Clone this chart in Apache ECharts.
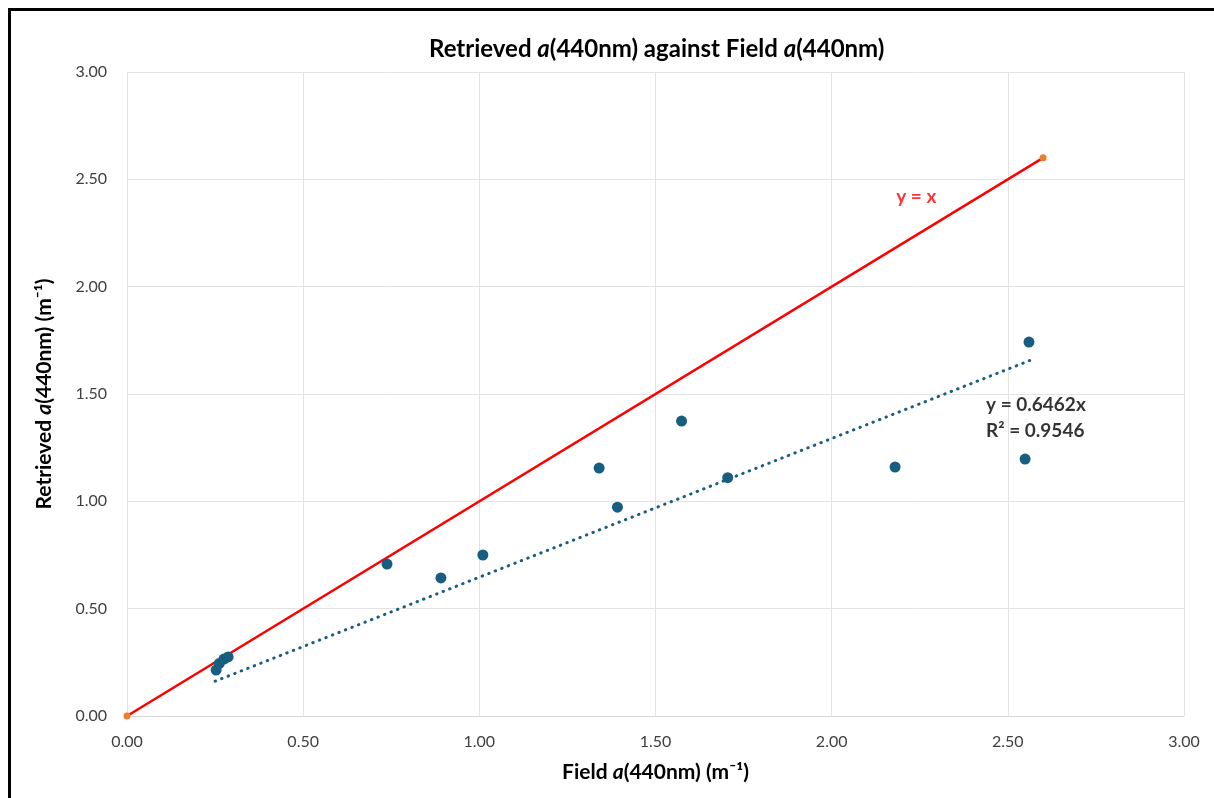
<!DOCTYPE html>
<html>
<head>
<meta charset="utf-8">
<script src="https://cdn.jsdelivr.net/npm/echarts@6/dist/echarts.min.js"></script>
<style>
html,body{margin:0;padding:0;background:#fff;}
#chart{width:1214px;height:798px;}
</style>
</head>
<body>
<div id="chart"></div>
<script>
// Field a(440nm) vs Retrieved a(440nm)
const fieldA = [0.253, 0.262, 0.275, 0.287, 0.738, 0.891, 1.010, 1.340, 1.392, 1.574, 1.705, 2.180, 2.549, 2.560];
const retrievedA = [0.214, 0.245, 0.265, 0.275, 0.708, 0.643, 0.750, 1.155, 0.973, 1.374, 1.110, 1.160, 1.197, 1.742];
// 1:1 reference line endpoints
const oneToOneX = [0, 2.6];
const oneToOneY = [0, 2.6];
// Linear trend line endpoints (y = 0.6462x)
const trendX = [0.25, 2.57];
const trendY = [0.162, 1.661];
const axisTicks = ['0.00','0.50','1.00','1.50','2.00','2.50','3.00'];
const eqLines = ['y = 0.6462x', 'R² = 0.9546'];
const refLabel = 'y = x';

const font = 'Lato, "Open Sans", "Noto Sans", sans-serif';
const pts = fieldA.map((x, i) => [x, retrievedA[i]]);
const oneToOne = oneToOneX.map((x, i) => [x, oneToOneY[i]]);
const trend = trendX.map((x, i) => [x, trendY[i]]);

function richBI(size) {
  return {
    b: {fontFamily: font, fontWeight: 'bold', fontSize: size, color: '#000'},
    i: {fontFamily: font, fontWeight: 'bold', fontStyle: 'italic', fontSize: size, color: '#000'}
  };
}

const chart = echarts.init(document.getElementById('chart'), null, {renderer: 'canvas'});
chart.setOption({
  animation: false,
  backgroundColor: '#fff',
  title: {
    text: '{b|Retrieved }{i|a}{b|(440nm) against Field }{i|a}{b|(440nm)}',
    left: 424,
    top: 32,
    textStyle: {rich: richBI(24)}
  },
  graphic: [{
    type: 'rect',
    shape: {x: 9.5, y: 9.5, width: 1400, height: 1000},
    style: {fill: 'none', stroke: '#000', lineWidth: 3},
    silent: true, z: 100
  }],
  grid: {left: 127, right: 30, top: 72, bottom: 82, containLabel: false},
  xAxis: {
    type: 'value', min: 0, max: 3, interval: 0.5,
    name: '{b|Field }{i|a}{b|(440nm) (m⁻¹)}',
    nameLocation: 'middle', nameGap: 46,
    nameTextStyle: {rich: richBI(21)},
    axisLine: {show: true, onZero: false, lineStyle: {color: '#d9d9d9', width: 1}},
    axisTick: {show: false},
    splitLine: {show: true, lineStyle: {color: '#e3e3e3', width: 1}},
    axisLabel: {
      margin: 18, fontFamily: font, fontSize: 16, color: '#404040',
      formatter: v => axisTicks[Math.round(v / 0.5)]
    }
  },
  yAxis: {
    type: 'value', min: 0, max: 3, interval: 0.5,
    name: '{b|Retrieved }{i|a}{b|(440nm) (m⁻¹)}',
    nameLocation: 'middle', nameGap: 72, nameRotate: 90,
    nameTextStyle: {rich: richBI(21)},
    axisLine: {show: true, lineStyle: {color: '#e3e3e3', width: 1}},
    axisTick: {show: false},
    splitLine: {show: true, lineStyle: {color: '#e3e3e3', width: 1}},
    axisLabel: {
      margin: 20, fontFamily: font, fontSize: 16, color: '#404040',
      formatter: v => axisTicks[Math.round(v / 0.5)]
    }
  },
  series: [
    {
      name: 'y = x', type: 'line', data: oneToOne,
      symbol: 'circle', symbolSize: 7, showSymbol: true,
      itemStyle: {color: '#ed7d31'},
      lineStyle: {color: '#ff0000', width: 2.5},
      z: 2
    },
    {
      name: 'trend', type: 'line', data: trend,
      symbol: 'none',
      lineStyle: {color: '#1a5e7f', width: 3, type: [0.5, 6.5], cap: 'round'},
      z: 3
    },
    {
      name: 'points', type: 'scatter', data: pts,
      symbol: 'circle', symbolSize: 11,
      itemStyle: {color: '#175e80', opacity: 1},
      z: 4
    },
    {
      name: 'labels', type: 'scatter', symbolSize: 0, silent: true,
      data: [
        {value: [2.24, 2.42], label: {show: true, position: 'inside', formatter: refLabel, color: '#ff0000', fontFamily: font, fontWeight: 'bold', fontSize: 19}},
        {value: [2.438, 1.39], label: {show: true, position: 'right', distance: 0, align: 'left', formatter: eqLines.join('\n'), lineHeight: 26, color: '#000', fontFamily: font, fontWeight: 'bold', fontSize: 19}}
      ],
      z: 5
    }
  ]
});
</script>
</body>
</html>
